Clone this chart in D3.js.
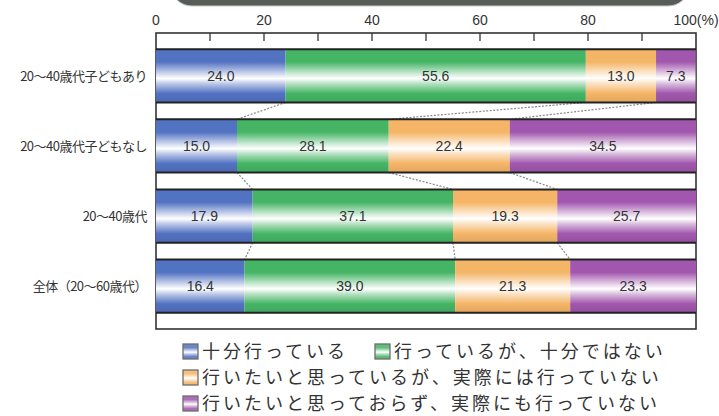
<!DOCTYPE html>
<html>
<head>
<meta charset="utf-8">
<script src="https://cdn.jsdelivr.net/npm/d3@7"></script>
<style>
  body { margin: 0; background: #fff; }
  svg { display: block; }
</style>
</head>
<body>
<svg id="chart" width="719" height="416"></svg>
<script>
// categories, series and ticks
var categories = ['20〜40歳代子どもあり', '20〜40歳代子どもなし', '20〜40歳代', '全体（20〜60歳代）'];
var seriesNames = ['十分行っている', '行っているが、十分ではない', '行いたいと思っているが、実際には行っていない', '行いたいと思っておらず、実際にも行っていない'];
var fullyDoing = [24.0, 15.0, 17.9, 16.4];
var doingNotEnough = [55.6, 28.1, 37.1, 39.0];
var wantButNot = [13.0, 22.4, 19.3, 21.3];
var dontWantNot = [7.3, 34.5, 25.7, 23.3];
var tickLabels = [0, 20, 40, 60, 80, 100];
var minorTicks = [10, 20, 30, 40, 50, 60, 70, 80, 90];

var colors = ['#5272c2', '#45b565', '#f5b567', '#a157ad'];

var svg = d3.select('#chart');
var box = {left: 156, right: 696, top: 33, bottom: 329};

var x = d3.scaleLinear().domain([0, 100]).range([box.left, box.right]);
var y = d3.scaleBand().domain(categories).range([box.top, box.bottom])
  .paddingInner(0.24).paddingOuter(0.23);

// decorative banner at the top
svg.append('rect')
  .attr('x', 172).attr('y', -30).attr('width', 516).attr('height', 36)
  .attr('rx', 20).attr('ry', 20)
  .style('fill', '#585c58').style('stroke', '#c8c8c8').style('stroke-width', 1);

// gradients, one per series
var defs = svg.append('defs');
colors.forEach(function(c, i) {
  var g = defs.append('linearGradient').attr('id', 'grad' + i)
    .attr('x1', 0).attr('y1', 0).attr('x2', 0).attr('y2', 1);
  var dark = d3.color(c).darker(0.25);
  g.append('stop').attr('offset', '0%').attr('stop-color', c);
  g.append('stop').attr('offset', '24%').attr('stop-color', c);
  g.append('stop').attr('offset', '47%').attr('stop-color', d3.interpolateRgb(c, '#fff')(0.75));
  g.append('stop').attr('offset', '55%').attr('stop-color', '#ffffff');
  g.append('stop').attr('offset', '65%').attr('stop-color', d3.interpolateRgb(c, '#fff')(0.6));
  g.append('stop').attr('offset', '83%').attr('stop-color', c);
  g.append('stop').attr('offset', '100%').attr('stop-color', dark);
});

// plot box
svg.append('rect')
  .attr('x', box.left).attr('y', box.top)
  .attr('width', box.right - box.left).attr('height', box.bottom - box.top)
  .style('fill', '#fff').style('stroke', '#333').style('stroke-width', 1.6);

// ticks along top edge
svg.selectAll('.tick').data(minorTicks).enter().append('line')
  .attr('x1', function(d) { return x(d); }).attr('x2', function(d) { return x(d); })
  .attr('y1', box.top).attr('y2', box.top + 8)
  .style('stroke', '#333').style('stroke-width', 1.3);

svg.selectAll('.tickLabel').data(tickLabels).enter().append('text')
  .attr('x', function(d) { return x(d); })
  .attr('y', box.top - 8)
  .attr('text-anchor', 'middle')
  .style('font-family', '"Liberation Sans", Arial, sans-serif')
  .style('font-size', '14px').style('fill', '#333')
  .text(function(d) { return d === 100 ? '100(%)' : d; });

// stack the series
var table = categories.map(function(c, i) {
  return {cat: c, vals: [fullyDoing[i], doingNotEnough[i], wantButNot[i], dontWantNot[i]]};
});
table.forEach(function(row) {
  var acc = 0;
  row.segs = row.vals.map(function(v, j) {
    var s = {cat: row.cat, j: j, v: v, x0: acc, x1: acc + v};
    acc += v;
    return s;
  });
});

// dotted connectors between bars
for (var i = 0; i < table.length - 1; i++) {
  for (var k = 0; k < 3; k++) {
    svg.append('line')
      .attr('x1', x(table[i].segs[k].x1))
      .attr('y1', y(table[i].cat) + y.bandwidth())
      .attr('x2', x(table[i + 1].segs[k].x1))
      .attr('y2', y(table[i + 1].cat))
      .style('stroke', '#888').style('stroke-width', 1.2)
      .style('stroke-dasharray', '2,1.5');
  }
}

var bars = svg.selectAll('.bar').data(table).enter().append('g');

bars.selectAll('rect').data(function(d) { return d.segs; }).enter().append('rect')
  .attr('x', function(d) { return x(d.x0); })
  .attr('y', function(d) { return y(d.cat); })
  .attr('width', function(d) { return x(d.x1) - x(d.x0); })
  .attr('height', y.bandwidth())
  .style('fill', function(d) { return 'url(#grad' + d.j + ')'; });

// dark edges on top and bottom of each bar
bars.append('line')
  .attr('x1', box.left).attr('x2', box.right)
  .attr('y1', function(d) { return y(d.cat); }).attr('y2', function(d) { return y(d.cat); })
  .style('stroke', '#222').style('stroke-width', 2);
bars.append('line')
  .attr('x1', box.left).attr('x2', box.right)
  .attr('y1', function(d) { return y(d.cat) + y.bandwidth(); })
  .attr('y2', function(d) { return y(d.cat) + y.bandwidth(); })
  .style('stroke', '#222').style('stroke-width', 2);

bars.selectAll('.val').data(function(d) { return d.segs; }).enter().append('text')
  .attr('x', function(d) { return (x(d.x0) + x(d.x1)) / 2; })
  .attr('y', function(d) { return y(d.cat) + y.bandwidth() / 2 + 5; })
  .attr('text-anchor', 'middle')
  .style('font-family', '"Liberation Sans", Arial, sans-serif')
  .style('font-size', '14px').style('fill', '#333')
  .text(function(d) { return d.v.toFixed(1); });

// category labels
svg.selectAll('.cat').data(categories).enter().append('text')
  .attr('x', box.left - 9)
  .attr('y', function(d) { return y(d) + y.bandwidth() / 2 + 5; })
  .attr('text-anchor', 'end')
  .style('font-family', '"Noto Sans CJK JP", sans-serif')
  .style('font-size', '13px').style('fill', '#333')
  .style('letter-spacing', '-0.5px')
  .text(function(d) { return d; });

// legend
var legendItems = [
  {j: 0, x: 182, y: 351},
  {j: 1, x: 374, y: 351},
  {j: 2, x: 182, y: 377},
  {j: 3, x: 182, y: 403}
];
var legend = svg.selectAll('.legend').data(legendItems).enter().append('g');
legend.append('rect')
  .attr('x', function(d) { return d.x + 1; })
  .attr('y', function(d) { return d.y - 7; })
  .attr('width', 15).attr('height', 15)
  .style('fill', function(d) { return 'url(#grad' + d.j + ')'; })
  .style('opacity', 0.85)
  .style('stroke', '#555').style('stroke-width', 1.3);
legend.append('text')
  .attr('x', function(d) { return d.x + 20; })
  .attr('y', function(d) { return d.y + 7; })
  .style('font-family', '"Noto Sans CJK JP", sans-serif')
  .style('font-size', '18px').style('letter-spacing', '3px').style('fill', '#333')
  .text(function(d) { return seriesNames[d.j]; });
</script>
</body>
</html>
